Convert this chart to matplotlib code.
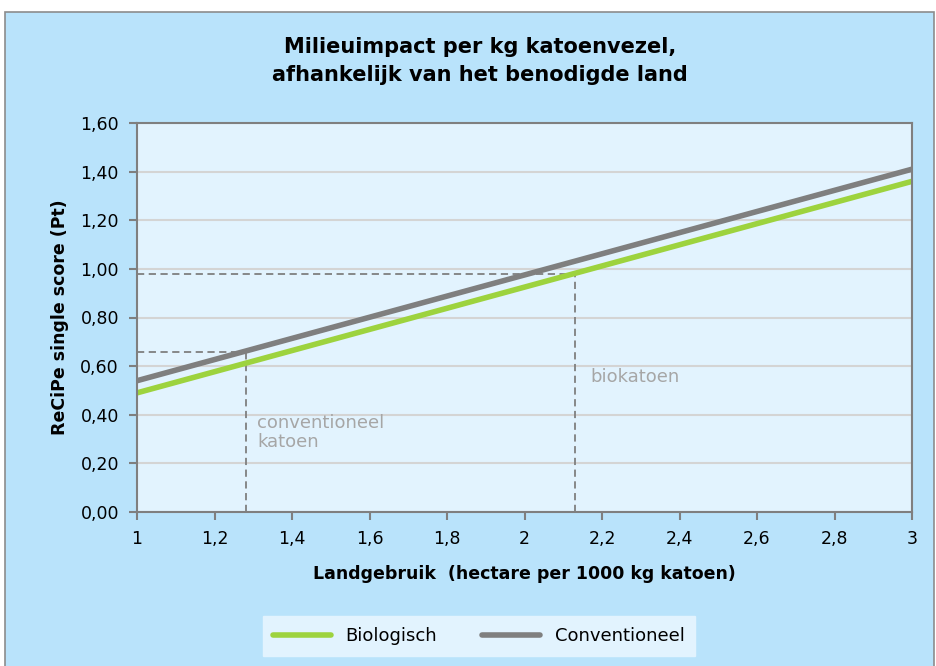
import numpy as np
import matplotlib
matplotlib.use("Agg")
import matplotlib.pyplot as plt
from matplotlib.patches import Rectangle

# data
land = [1, 3]
biologisch = [0.49, 1.36]
conventioneel = [0.54, 1.41]

conv_land, conv_score = 1.28, 0.66
bio_land, bio_score = 2.13, 0.98

xticks = [1, 1.2, 1.4, 1.6, 1.8, 2, 2.2, 2.4, 2.6, 2.8, 3]
yticks = [0, 0.2, 0.4, 0.6, 0.8, 1.0, 1.2, 1.4, 1.6]

green = '#9DD33E'
grey = '#7F7F7F'
outer_bg = '#B9E3FB'
inner_bg = '#E2F3FE'

plt.rcParams['font.family'] = ['DejaVu Sans']

fig = plt.figure(figsize=(9.36, 6.66), dpi=100, facecolor='white')
fig.patches.append(Rectangle((5/936, -0.01), 929/936, 1 - 12/666 + 0.01,
                             transform=fig.transFigure, facecolor=outer_bg,
                             edgecolor='#8C8C8C', linewidth=1.2, zorder=-10))

ax = fig.add_axes([137/936, 154/666, 775/936, 389/666])
ax.set_facecolor(inner_bg)
ax.set_xlim(1, 3)
ax.set_ylim(0, 1.6)

ax.set_yticks(yticks)
ax.set_yticklabels([f'{v:.2f}'.replace('.', ',') for v in yticks])
ax.set_xticks(xticks)
ax.set_xticklabels([('%g' % v).replace('.', ',') for v in xticks])
ax.tick_params(labelsize=12.5, colors=grey, labelcolor='black', length=6, width=1.5)
ax.tick_params(axis='y', pad=7)
ax.tick_params(axis='x', pad=7)
ax.grid(True, axis='y', color='#D4D4D4', linewidth=1.5)
ax.set_axisbelow(True)
for s in ax.spines.values():
    s.set_color(grey)
    s.set_linewidth(1.5)

# helper dashed lines
dash = dict(color=grey, lw=1.3, dashes=(4, 2.5))
ax.plot([conv_land, conv_land], [0, conv_score], **dash)
ax.plot([1, conv_land], [conv_score, conv_score], **dash)
ax.plot([bio_land, bio_land], [0, bio_score], **dash)
ax.plot([1, bio_land], [bio_score, bio_score], **dash)

ax.plot(land, biologisch, color=green, lw=4, solid_capstyle='round', label='Biologisch')
ax.plot(land, conventioneel, color=grey, lw=4, solid_capstyle='round', label='Conventioneel')

ax.text(1.31, 0.405, 'conventioneel\nkatoen', color='#A6A6A6', fontsize=13,
        va='top', ha='left', linespacing=1.1)
ax.text(2.17, 0.555, 'biokatoen', color='#A6A6A6', fontsize=13, va='center', ha='left')

ax.set_xlabel('Landgebruik  (hectare per 1000 kg katoen)', fontsize=12.5,
              fontweight='bold', labelpad=12)
ax.set_ylabel('ReCiPe single score (Pt)', fontsize=12.5, fontweight='bold', labelpad=8)

fig.text(0.513, 1 - 61/666, 'Milieuimpact per kg katoenvezel,\nafhankelijk van het benodigde land',
         ha='center', va='center', fontsize=15, fontweight='bold', linespacing=1.45)

leg = fig.legend(loc='center', bbox_to_anchor=(479/936, 1 - 636/666), ncol=2,
                 frameon=True, fancybox=False, fontsize=13, handlelength=3.2,
                 columnspacing=2.5, borderpad=0.6)
leg.get_frame().set_facecolor(inner_bg)
leg.get_frame().set_edgecolor(inner_bg)
leg.get_frame().set_alpha(1)

fig.savefig('out.png', dpi=100, facecolor=fig.get_facecolor())
